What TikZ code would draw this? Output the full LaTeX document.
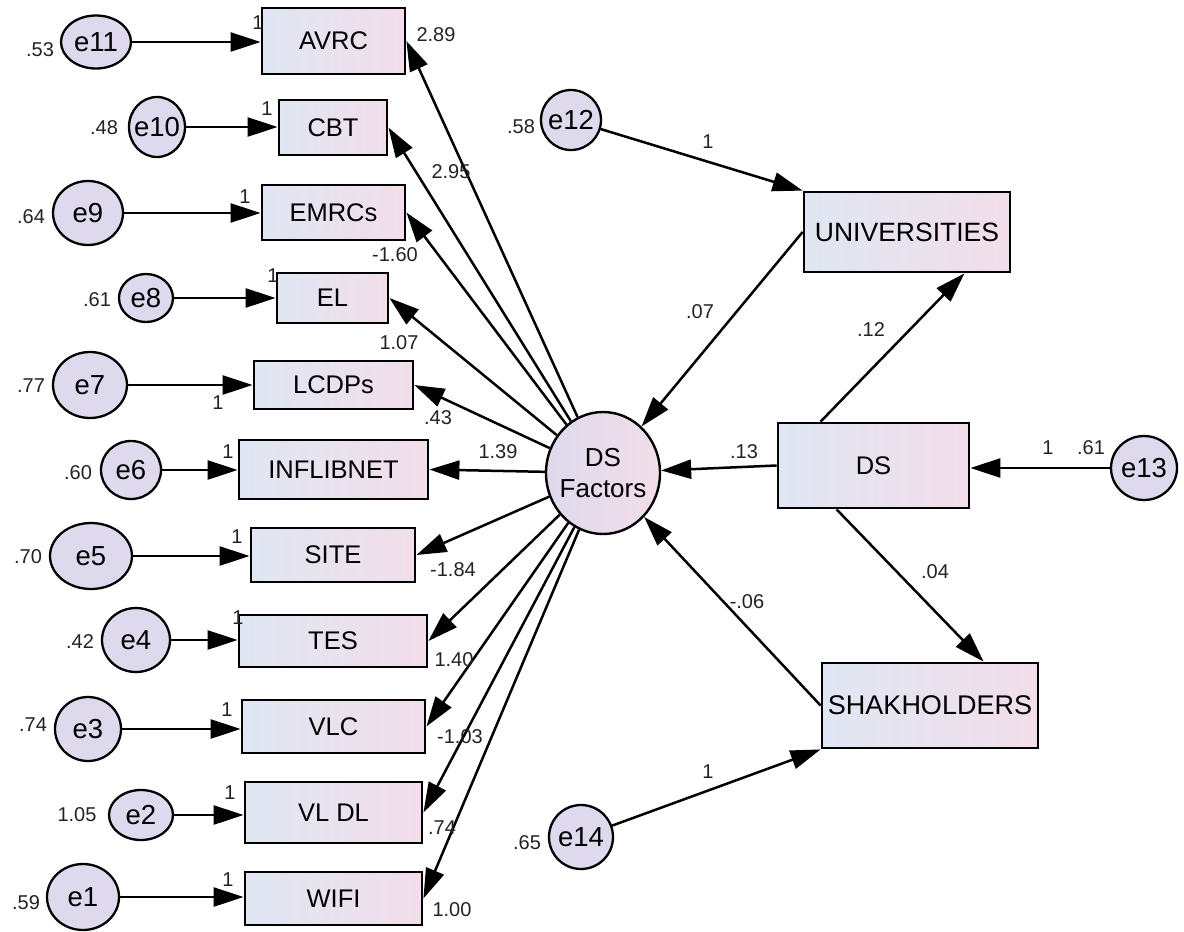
\documentclass[tikz,border=0pt]{standalone}
\usepackage{fontspec}
\setmainfont{Liberation Sans}
\usetikzlibrary{arrows.meta,shapes.geometric}
\definecolor{boxL}{RGB}{224,230,243}
\definecolor{boxR}{RGB}{242,222,234}
\definecolor{errF}{RGB}{222,217,236}
\definecolor{numC}{RGB}{35,35,35}
\tikzset{
 obs/.style={draw=black, line width=2.8pt, rectangle, inner sep=0pt, left color=boxL, right color=boxR, font=\fontsize{25.5}{30}\selectfont},
 err/.style={draw=black, line width=2.3pt, ellipse, inner sep=0pt, fill=errF},
 elab/.style={inner sep=0pt, font=\fontsize{27.5}{32}\selectfont},
 num/.style={inner sep=0pt, font=\fontsize{20}{24}\selectfont, text=numC},
 conn/.style={line width=2.5pt, -{Triangle[length=30pt,width=19pt]}},
}
\begin{document}
\begin{tikzpicture}[x=1pt,y=-1pt]
\useasboundingbox (0,0) rectangle (1184,932);
\fill[white] (0,0) rectangle (1184,932);

% observed boxes (left column)
\node[obs, minimum width=143pt, minimum height=66pt] (avrc) at (333.5,41) {AVRC};
\node[obs, minimum width=108pt, minimum height=55pt] (cbt) at (333,127.5) {CBT};
\node[obs, minimum width=143pt, minimum height=55pt] (emrc) at (333.5,212.5) {EMRCs};
\node[obs, minimum width=111pt, minimum height=50pt] (el) at (332.5,298) {EL};
\node[obs, minimum width=159pt, minimum height=48pt] (lcdp) at (333.5,385) {LCDPs};
\node[obs, minimum width=189pt, minimum height=59pt] (infl) at (333.5,469.5) {INFLIBNET};
\node[obs, minimum width=164pt, minimum height=54pt] (site) at (333,555) {SITE};
\node[obs, minimum width=188pt, minimum height=52pt] (tes) at (333,641) {TES};
\node[obs, minimum width=183pt, minimum height=53pt] (vlc) at (333.5,726.5) {VLC};
\node[obs, minimum width=177pt, minimum height=61pt] (vldl) at (333.5,812.5) {VL DL};
\node[obs, minimum width=177pt, minimum height=53pt] (wifi) at (333.5,898.5) {WIFI};

% right boxes
\node[obs, minimum width=206pt, minimum height=80pt, font=\fontsize{26.5}{30}\selectfont] (univ) at (907,232) {UNIVERSITIES};
\node[obs, minimum width=191pt, minimum height=85pt] (ds) at (873.5,465.5) {DS};
\node[obs, minimum width=216pt, minimum height=85pt, font=\fontsize{27}{30}\selectfont] (shak) at (930,705.5) {SHAKHOLDERS};

% latent
\node[draw=black, line width=2.4pt, ellipse, inner sep=0pt, left color=errF, right color=boxR,
      minimum width=114pt, minimum height=122pt,
      label={[inner sep=0pt, align=center, font=\fontsize{26}{31}\selectfont]center:{DS\\Factors}}] (dsf) at (603,473) {};

% error terms
\node[err, minimum width=70pt, minimum height=53pt, label={[elab]center:e11}] (e11) at (96,42) {};
\node[err, minimum width=56pt, minimum height=60pt, label={[elab]center:e10}] (e10) at (157,127) {};
\node[err, minimum width=70pt, minimum height=64pt, label={[elab]center:e9}] (e9) at (88,213) {};
\node[err, minimum width=54pt, minimum height=48pt, label={[elab]center:e8}] (e8) at (146,298) {};
\node[err, minimum width=74pt, minimum height=66pt, label={[elab]center:e7}] (e7) at (90,385) {};
\node[err, minimum width=60pt, minimum height=58pt, label={[elab]center:e6}] (e6) at (131,470) {};
\node[err, minimum width=82pt, minimum height=66pt, label={[elab]center:e5}] (e5) at (91,556) {};
\node[err, minimum width=68pt, minimum height=64pt, label={[elab]center:e4}] (e4) at (136,640) {};
\node[err, minimum width=66pt, minimum height=64pt, label={[elab]center:e3}] (e3) at (88,729) {};
\node[err, minimum width=64pt, minimum height=50pt, label={[elab]center:e2}] (e2) at (141,815) {};
\node[err, minimum width=72pt, minimum height=66pt, label={[elab]center:e1}] (e1) at (83,897) {};
\node[err, minimum width=60pt, minimum height=60pt, label={[elab]center:e12}] (e12) at (571,120) {};
\node[err, minimum width=66pt, minimum height=64pt, label={[elab]center:e13}] (e13) at (1144,468) {};
\node[err, minimum width=64pt, minimum height=64pt, label={[elab]center:e14}] (e14) at (581,837) {};

% error -> indicator arrows
\draw[conn] (e11) -- (e11 -| avrc.west);
\draw[conn] (e10) -- (e10 -| cbt.west);
\draw[conn] (e9) -- (e9 -| emrc.west);
\draw[conn] (e8) -- (e8 -| el.west);
\draw[conn] (e7) -- (e7 -| lcdp.west);
\draw[conn] (e6) -- (e6 -| infl.west);
\draw[conn] (e5) -- (e5 -| site.west);
\draw[conn] (e4) -- (e4 -| tes.west);
\draw[conn] (e3) -- (e3 -| vlc.west);
\draw[conn] (e2) -- (e2 -| vldl.west);
\draw[conn] (e1) -- (e1 -| wifi.west);

% latent -> indicators
\draw[conn] (dsf) -- (avrc.east);
\draw[conn] (dsf) -- (cbt.east);
\draw[conn] (dsf) -- (emrc.east);
\draw[conn] (dsf) -- (el.east);
\draw[conn] (dsf) -- (lcdp.east);
\draw[conn] (dsf) -- (infl.east);
\draw[conn] (dsf) -- (site.east);
\draw[conn] (dsf) -- (tes.east);
\draw[conn] (dsf) -- (vlc.east);
\draw[conn] (dsf) -- (vldl.east);
\draw[conn] (dsf) -- (wifi.east);

% structural paths
\draw[conn] (e12) -- (univ.north west);
\draw[conn] (univ.west) -- (dsf);
\draw[conn] ([xshift=44pt]ds.north west) -- ([xshift=-47pt]univ.south east);
\draw[conn] (ds.west) -- (dsf);
\draw[conn] (e13) -- (e13 -| ds.east);
\draw[conn] ([xshift=60pt]ds.south west) -- ([xshift=163pt]shak.north west);
\draw[conn] (shak.west) -- (dsf);
\draw[conn] (e14) -- (shak.south west);

% variance labels
\node[num] (v11) at (40,50) {.53};
\node[num] (v10) at (104,128) {.48};
\node[num] (v9) at (31,217) {.64};
\node[num] (v8) at (97,300) {.61};
\node[num] (v7) at (31,386) {.77};
\node[num] (v6) at (78,473) {.60};
\node[num] (v5) at (28,557) {.70};
\node[num] (v4) at (80,642) {.42};
\node[num] (v3) at (33,725) {.74};
\node[num] (v2) at (77,815) {1.05};
\node[num] (v1) at (26,903) {.59};
\node[num] (v12) at (521,127) {.58};
\node[num] (v13) at (1091,448) {.61};
\node[num] (v14) at (527,843) {.65};

% fixed-one labels
\node[num] (o11) at (258,23) {1};
\node[num] (o10) at (267,109) {1};
\node[num] (o9) at (245,197) {1};
\node[num] (o8) at (273,276) {1};
\node[num] (o7) at (218,403) {1};
\node[num] (o6) at (228,452) {1};
\node[num] (o5) at (237,537) {1};
\node[num] (o4) at (238,618) {1};
\node[num] (o3) at (227,710) {1};
\node[num] (o2) at (230,793) {1};
\node[num] (o1) at (228,880) {1};
\node[num] (o12) at (708,142) {1};
\node[num] (o13) at (1048,448) {1};
\node[num] (o14) at (708,772) {1};

% loadings / path coefficients
\node[num] (c1) at (436,35) {2.89};
\node[num] (c2) at (451,172) {2.95};
\node[num] (c3) at (395,255) {-1.60};
\node[num] (c4) at (399,343) {1.07};
\node[num] (c5) at (438,418) {.43};
\node[num] (c6) at (498,452) {1.39};
\node[num] (c7) at (453,570) {-1.84};
\node[num] (c8) at (454,660) {1.40};
\node[num] (c9) at (460,737) {-1.03};
\node[num] (c10) at (442,828) {.74};
\node[num] (c11) at (452,910) {1.00};
\node[num] (c12) at (700,312) {.07};
\node[num] (c13) at (871,330) {.12};
\node[num] (c14) at (744,452) {.13};
\node[num] (c15) at (935,572) {.04};
\node[num] (c16) at (747,602) {-.06};
\end{tikzpicture}
\end{document}
